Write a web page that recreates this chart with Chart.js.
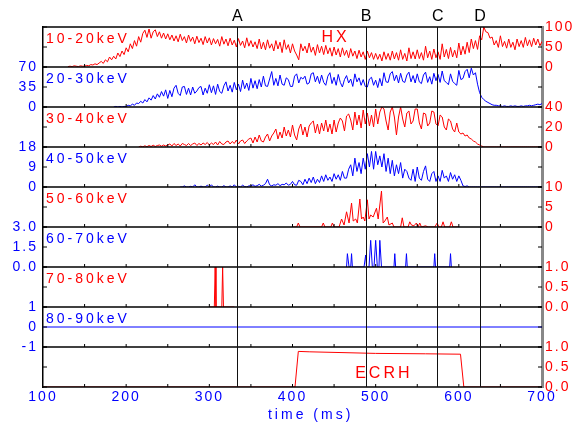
<!DOCTYPE html>
<html>
<head>
<meta charset="utf-8">
<script src="https://cdn.jsdelivr.net/npm/chart.js@4.4.0/dist/chart.umd.min.js"></script>
<style>
  html, body { margin: 0; padding: 0; background: #fff; }
  #wrap { position: relative; width: 576px; height: 424px; }
</style>
</head>
<body>
<div id="wrap"><canvas id="hxChart" width="576" height="424"></canvas></div>
<script>
// sample times (ms) of the four dense channels, one row per 50 ms
const times = [
  100, 102.5, 105, 107.5, 110, 112.5, 115, 117.5, 120, 122.5, 125, 127.5, 130, 132.5, 135, 137.5, 140, 142.5, 145, 147.5,
  150, 152.5, 155, 157.5, 160, 162.5, 165, 167.5, 170, 172.5, 175, 177.5, 180, 182.5, 185, 187.5, 190, 192.5, 195, 197.5,
  200, 202.5, 205, 207.5, 210, 212.5, 215, 217.5, 220, 222.5, 225, 227.5, 230, 232.5, 235, 237.5, 240, 242.5, 245, 247.5,
  250, 252.5, 255, 257.5, 260, 262.5, 265, 267.5, 270, 272.5, 275, 277.5, 280, 282.5, 285, 287.5, 290, 292.5, 295, 297.5,
  300, 302.5, 305, 307.5, 310, 312.5, 315, 317.5, 320, 322.5, 325, 327.5, 330, 332.5, 335, 337.5, 340, 342.5, 345, 347.5,
  350, 352.5, 355, 357.5, 360, 362.5, 365, 367.5, 370, 372.5, 375, 377.5, 380, 382.5, 385, 387.5, 390, 392.5, 395, 397.5,
  400, 402.5, 405, 407.5, 410, 412.5, 415, 417.5, 420, 422.5, 425, 427.5, 430, 432.5, 435, 437.5, 440, 442.5, 445, 447.5,
  450, 452.5, 455, 457.5, 460, 462.5, 465, 467.5, 470, 472.5, 475, 477.5, 480, 482.5, 485, 487.5, 490, 492.5, 495, 497.5,
  500, 502.5, 505, 507.5, 510, 512.5, 515, 517.5, 520, 522.5, 525, 527.5, 530, 532.5, 535, 537.5, 540, 542.5, 545, 547.5,
  550, 552.5, 555, 557.5, 560, 562.5, 565, 567.5, 570, 572.5, 575, 577.5, 580, 582.5, 585, 587.5, 590, 592.5, 595, 597.5,
  600, 602.5, 605, 607.5, 610, 612.5, 615, 617.5, 620, 622.5, 625, 627.5, 630, 632.5, 635, 637.5, 640, 642.5, 645, 647.5,
  650, 652.5, 655, 657.5, 660, 662.5, 665, 667.5, 670, 672.5, 675, 677.5, 680, 682.5, 685, 687.5, 690, 692.5, 695, 697.5,
  700
];

const hx1020 = [
  null, null, null, null, null, null, null, null, null, null, null, null, 1, 2, 1, 3, 2, 1, 3, 2,
  2, 4, 3, 6, 5, 8, 6, 10, 14, 9, 18, 13, 25, 18, 27, 20, 35, 26, 40, 31,
  48, 38, 58, 46, 66, 52, 76, 62, 84, 92, 74, 95, 72, 88, 93, 76, 88, 72, 85, 70,
  83, 68, 80, 65, 78, 63, 82, 66, 76, 60, 80, 64, 75, 58, 77, 61, 72, 56, 76, 60,
  73, 55, 71, 58, 69, 52, 76, 57, 70, 53, 72, 55, 67, 50, 71, 54, 65, 48, 73, 52,
  66, 50, 63, 46, 70, 45, 62, 43, 68, 47, 58, 40, 66, 45, 62, 36, 68, 44, 56, 35,
  58, 40, 30, 18, 58, 40, 52, 35, 60, 37, 50, 29, 56, 35, 52, 31, 54, 33, 48, 27,
  50, 30, 46, 25, 48, 29, 42, 23, 46, 27, 40, 21, 42, 25, 38, 19, 40, 23, 36, 19,
  34, 19, 32, 15, 38, 19, 34, 17, 40, 20, 36, 17, 43, 19, 34, 15, 48, 21, 38, 20,
  43, 21, 36, 17, 52, 23, 40, 19, 45, 23, 38, 19, 58, 25, 44, 21, 49, 25, 42, 23,
  60, 30, 52, 32, 62, 36, 70, 46, 66, 44, 78, 68, 100, 88, 86, 72, 75, 55, 66, 49,
  78, 51, 64, 47, 70, 49, 62, 43, 70, 51, 66, 49, 74, 53, 68, 51, 72, 55, 70, 53,
  64
];

const hx2030 = [
  null, null, null, null, null, null, null, null, null, null, null, null, null, null, null, null, null, null, null, null,
  null, null, null, null, null, null, null, null, null, null, null, null, null, null, 0, 1, 0, 1, 0, 1,
  1, 3, 2, 5, 3, 7, 6, 10, 7, 13, 9, 16, 12, 20, 14, 23, 17, 27, 19, 30,
  15, 29, 18, 33, 38, 24, 20, 35, 36, 22, 33, 21, 35, 24, 28, 34, 36, 21, 33, 24,
  39, 25, 37, 22, 40, 27, 24, 37, 44, 28, 38, 26, 43, 30, 40, 27, 47, 32, 42, 29,
  50, 33, 46, 32, 48, 35, 54, 37, 36, 49, 62, 38, 50, 37, 56, 40, 38, 51, 48, 36,
  36, 54, 58, 42, 52, 49, 54, 40, 42, 58, 60, 44, 54, 41, 56, 43, 38, 54, 60, 41,
  52, 38, 57, 43, 35, 48, 55, 42, 49, 36, 58, 44, 51, 38, 48, 36, 35, 49, 52, 38,
  47, 34, 50, 37, 60, 44, 43, 58, 62, 46, 56, 42, 59, 45, 43, 56, 61, 44, 55, 42,
  58, 44, 41, 56, 61, 43, 53, 40, 59, 46, 57, 43, 63, 46, 43, 39, 58, 45, 41, 38,
  64, 48, 50, 62, 66, 51, 68, 56, 60, 40, 25, 17, 13, 10, 8, 6, 4, 3, 3, 2,
  2, 1, 2, 1, 1, 2, 1, 2, 1, 1, 2, 1, 2, 2, 3, 2, 3, 4, 5, 4,
  6
];

const hx3040 = [
  null, null, null, null, null, null, null, null, null, null, null, null, null, null, null, null, null, null, null, null,
  null, null, null, null, null, null, null, null, null, null, null, null, null, null, null, null, null, null, null, null,
  null, null, null, null, null, null, 0, 0.8, 0.2, 1.2, 0.3, 1.5, 0.5, 1.8, 0.5, 1.5, 2, 0.8, 2, 1,
  2, 3, 1, 3.5, 1.5, 3, 1, 3.5, 2.5, 1.5, 3.5, 1.5, 3, 4, 1.5, 3.5, 2, 4, 2.5, 4.5,
  2, 4, 2.5, 5, 2, 5.5, 3, 2.5, 5, 6, 3, 5.5, 3.5, 7, 3, 6, 7, 3.5, 6, 8,
  9, 4, 10, 5, 12, 6, 5, 10, 13, 6, 11, 14, 18, 8, 15, 9, 20, 11, 17, 10,
  22, 12, 7, 18, 23, 12, 20, 10, 21, 24, 26, 14, 23, 13, 24, 16, 27, 15, 23, 13,
  27, 15, 24, 29, 26, 16, 31, 33, 27, 17, 35, 22, 32, 19, 37, 23, 34, 21, 32, 20,
  38, 23, 35, 40, 38, 26, 17, 35, 40, 30, 12, 30, 40, 28, 20, 34, 36, 23, 26, 38,
  38, 24, 18, 34, 33, 21, 24, 36, 35, 23, 21, 32, 30, 20, 17, 28, 26, 18, 15, 24,
  15, 13, 14, 11, 12, 9, 8, 6, 5, 3, 2, 1, 0, 0, 0, 0, 0, 0, 0, 0,
  0, 0, 0, 0, 0, 0, 0, 0, 0, 0, 0, 0, 0, 0, 0, 0, 0, 0, 0, 0,
  0
];

const hx4050 = [
  null, null, null, null, null, null, null, null, null, null, null, null, null, null, null, null, null, null, null, null,
  null, null, null, null, null, null, null, null, null, null, null, null, null, null, null, null, null, null, null, null,
  null, null, null, null, null, null, null, null, null, null, null, null, null, null, null, null, null, null, null, null,
  null, null, null, null, null, null, 0, 0, 0.5, 0, 0, 0.3, 0, 1, 0, 0, 0.4, 0, 0, 0.8,
  0, 1, 0, 0, 0.4, 0, 0, 0.6, 0, 0, 0.5, 0, 1, 0, 0.3, 0, 0.8, 0.2, 0, 0.5,
  0.5, 1, 0.3, 0.6, 1.2, 0.4, 0.8, 1.5, 3.5, 1, 0.5, 1, 0.8, 1.5, 0.6, 1.2, 1, 1.8, 0.8, 1.2,
  2.5, 1, 0.8, 3, 2.5, 1, 3.5, 1.5, 4, 2, 4.5, 1.5, 3.5, 2, 5, 2.5, 5.5, 3, 4.5, 2.5,
  6, 3.5, 5.5, 3, 7, 4, 4, 8, 10, 5, 13, 7, 11, 6, 13, 8, 15, 9, 16, 8,
  16, 10, 14, 9, 15, 7, 13, 6, 12, 5, 10, 6, 11, 4, 8, 7, 4, 3, 8, 2.5,
  9, 4, 3, 7, 9.5, 3.5, 2.5, 6, 7, 2.5, 5, 2.5, 7.5, 4, 5, 2.5, 6.5, 3.5, 5.5, 2.5,
  5, 3, 0.5, 0.2, 0.5, 0, 0, 0, 0, 0, 0, 0, 0, 0, 0, 0, 0, 0, 0, 0,
  0, 0, 0, 0, 0, 0, 0, 0, 0, 0, 0, 0, 0, 0, 0, 0, 0, 0, 0, 0,
  0
];

// sparse channels
const hx5060Time = [400, 405, 407, 409, 435, 437, 439, 446, 448, 450, 456, 459, 462, 465, 468, 471, 473, 476, 478, 481,
  483, 485, 487, 490, 492, 494, 497, 501, 503, 507, 509, 511, 514, 516, 520, 522, 530, 532, 534, 539,
  541, 543, 546, 549, 551, 553, 555, 560, 563, 571, 574, 576, 579, 581, 583, 589, 591, 593, 600];
const hx5060 = [0, 0, 1, 0, 0, 1, 0, 0, 1, 0, 0, 2, 0.5, 3.8, 1, 6, 1.5, 2, 1, 7,
  2, 2.5, 1.5, 6.8, 2, 3, 2.5, 4.7, 2, 9, 1, 1.5, 2.5, 0.5, 1, 0, 0, 2.3, 0, 0,
  1.3, 0.5, 0.3, 1, 0, 1, 0, 0.3, 0, 0, 1, 0, 0, 1.3, 0, 0, 1.3, 0, 0];

const hx6070Time = [465, 466, 468, 470, 471, 472, 486, 488, 489, 492, 494, 496, 498, 500, 502, 504, 505, 507,
  522, 523, 524, 536, 537, 538, 570, 571, 572, 589, 590, 591];
const hx6070 = [0, 1, 0, 0, 1, 0, 0, 0.9, 0, 0, 2, 0, 0, 2, 0, 0, 2, 0,
  0, 1, 0, 0, 1, 0, 0, 1, 0, 0, 1, 0];

const hx7080Time = [300, 306, 307, 308, 315, 316, 317, 330];
const hx7080 = [0, 0, 1, 0, 0, 1, 0, 0];

const hx8090Time = [100, 700];
const hx8090 = [0, 0];

const ecrhTime = [100, 403, 407, 420, 500, 560, 602, 606, 700];
const ecrh = [0, 0, 0.89, 0.88, 0.84, 0.83, 0.82, 0, 0];

const channelNames = ['10-20keV', '20-30keV', '30-40keV', '40-50keV', '50-60keV', '60-70keV', '70-80keV', '80-90keV', 'ECRH'];
const channelTimes = [times, times, times, times, hx5060Time, hx6070Time, hx7080Time, hx8090Time, ecrhTime];
const channelValues = [hx1020, hx2030, hx3040, hx4050, hx5060, hx6070, hx7080, hx8090, ecrh];
const axisMin = [0, 0, 0, 0, 0, 0, 0, -1, 0];
const axisMax = [100, 70, 40, 18, 10, 3, 1, 1, 1];
const axisStep = [50, 35, 20, 9, 5, 1.5, 0.5, 1, 0.5];
const axisDigits = [0, 0, 0, 0, 0, 1, 1, 0, 1];
const minorTimes = [150, 200, 250, 300, 350, 400, 450, 500, 550, 600, 650];
const markerTimes = [333, 488, 574, 625];
const markerNames = ['A', 'B', 'C', 'D'];

const RED = '#ff0000';
const BLUE = '#0000ff';
const FONT = '"Liberation Sans", Arial, sans-serif';

// odd panels have their numbers on the left, even ones on the right
function onLeft(i) { return i % 2 === 1; }
function colorOf(i) { return onLeft(i) ? BLUE : RED; }

const scales = {
  x: {
    type: 'linear', min: 100, max: 700, position: 'bottom',
    grid: { display: false }, border: { display: false },
    ticks: { stepSize: 100, color: BLUE, font: { family: FONT, size: 14 }, padding: -6, maxRotation: 0, autoSkip: false },
    afterFit: s => { s.height = 37; }
  }
};

channelNames.forEach((name, i) => {
  const common = {
    type: 'linear', min: axisMin[i], max: axisMax[i], offset: false,
    grid: { display: false, drawTicks: false }
  };
  scales['L' + i] = Object.assign({}, common, {
    position: 'left', stack: 'left', stackWeight: 1, weight: 8 - i,
    border: { color: '#000', width: 1.5 },
    ticks: {
      display: onLeft(i), stepSize: axisStep[i], autoSkip: false, padding: 5, color: BLUE,
      font: { family: FONT, size: 14 }, callback: v => v.toFixed(axisDigits[i])
    },
    afterFit: s => { s.width = 43; }
  });
  scales['R' + i] = Object.assign({}, common, {
    position: 'right', stack: 'right', stackWeight: 1, weight: i,
    border: { color: '#888', width: 3 },
    ticks: {
      display: !onLeft(i), stepSize: axisStep[i], autoSkip: false, padding: 3, color: RED,
      font: { family: FONT, size: 14 }, callback: v => v.toFixed(axisDigits[i])
    },
    afterFit: s => { s.width = 34; }
  });
});

const datasets = channelNames.map((name, i) => ({
  label: name,
  data: channelTimes[i].map((t, k) => ({ x: t, y: channelValues[i][k] })),
  xAxisID: 'x',
  yAxisID: (onLeft(i) ? 'L' : 'R') + i,
  borderColor: colorOf(i),
  borderWidth: 1,
  pointRadius: 0,
  tension: 0,
  fill: false,
  spanGaps: false
}));

function line(ctx, x1, y1, x2, y2) {
  ctx.beginPath();
  ctx.moveTo(x1, y1);
  ctx.lineTo(x2, y2);
  ctx.stroke();
}

const panelFrame = {
  id: 'panelFrame',
  beforeDraw(chart) {
    chart.ctx.letterSpacing = '2px';
  },
  afterDatasetsDraw(chart) {
    const { ctx, chartArea: area, scales: sc } = chart;
    ctx.save();
    ctx.strokeStyle = '#000';
    ctx.lineWidth = 1;
    channelNames.forEach((name, i) => {
      const ls = sc['L' + i], rs = sc['R' + i];
      ls.ticks.forEach(t => { const y = ls.getPixelForValue(t.value); line(ctx, area.left, y, area.left + 4, y); });
      rs.ticks.forEach(t => { const y = rs.getPixelForValue(t.value); line(ctx, area.right - 4, y, area.right, y); });
      minorTimes.forEach(t => { const x = sc.x.getPixelForValue(t); line(ctx, x, ls.bottom, x, ls.bottom - 3); });
    });
    // panel separators
    ctx.lineWidth = 1.5;
    channelNames.forEach((name, i) => {
      const ls = sc['L' + i];
      line(ctx, area.left, ls.top, area.right, ls.top);
    });
    line(ctx, area.left, area.bottom, area.right, area.bottom);
    // event markers
    ctx.lineWidth = 1;
    ctx.strokeStyle = '#111';
    markerTimes.forEach(t => {
      const x = Math.round(sc.x.getPixelForValue(t)) + 0.5;
      line(ctx, x, area.top, x, area.bottom);
    });
    ctx.restore();
  },
  afterDraw(chart) {
    const { ctx, chartArea: area, scales: sc } = chart;
    ctx.save();
    ctx.letterSpacing = '3px';
    ctx.textBaseline = 'middle';
    ctx.textAlign = 'left';
    ctx.font = '14px ' + FONT;
    channelNames.forEach((name, i) => {
      if (i === 8) return;
      ctx.fillStyle = colorOf(i);
      ctx.fillText(name, area.left + 3, sc['L' + i].top + 12.5);
    });
    // axis title, a little right of centre as in the original
    ctx.fillStyle = BLUE;
    ctx.textAlign = 'center';
    ctx.fillText('time (ms)', sc.x.getPixelForValue(420) + 1.5, area.bottom + 28);
    ctx.font = '16px ' + FONT;
    ctx.fillStyle = '#000';
    ctx.letterSpacing = '0px';
    markerTimes.forEach((t, k) => {
      ctx.fillText(markerNames[k], sc.x.getPixelForValue(t) + 0.5, area.top - 10);
    });
    ctx.fillStyle = RED;
    ctx.letterSpacing = '3px';
    ctx.fillText('HX', sc.x.getPixelForValue(450) + 1.5, sc.L0.top + 11);
    ctx.fillText('ECRH', sc.x.getPixelForValue(508) + 1.5, sc.L8.top + 27);
    ctx.restore();
  }
};

new Chart(document.getElementById('hxChart'), {
  type: 'line',
  data: { datasets: datasets },
  options: {
    responsive: false,
    animation: false,
    events: [],
    layout: { padding: { top: 27, left: 0, right: 0, bottom: 0 } },
    plugins: { legend: { display: false }, tooltip: { enabled: false } },
    scales: scales
  },
  plugins: [panelFrame]
});
</script>
</body>
</html>
